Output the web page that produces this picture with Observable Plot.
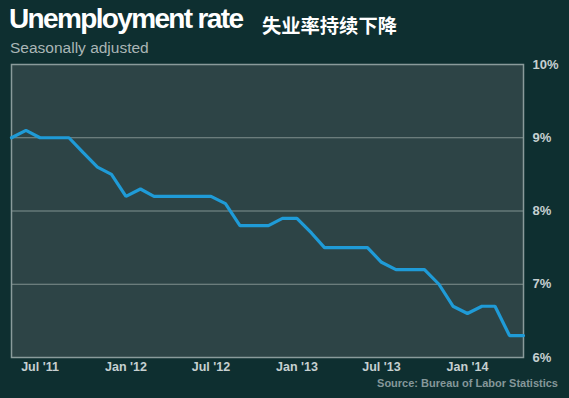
<!DOCTYPE html>
<html>
<head>
<meta charset="utf-8">
<script src="https://cdn.jsdelivr.net/npm/d3@7"></script>
<script src="https://cdn.jsdelivr.net/npm/@observablehq/plot@0.6"></script>
<style>
  html, body { margin: 0; padding: 0; }
  body { width: 569px; height: 398px; background: #0e2f30; position: relative; overflow: hidden; font-family: "Liberation Sans", Arial, sans-serif; }
  #title { position: absolute; left: 9px; top: 3px; color: #ffffff; font-weight: bold; font-size: 28px; letter-spacing: -1.65px; white-space: nowrap; }
  #cn { position: absolute; left: 262px; top: 11px; color: #ffffff; font-weight: bold; font-size: 19.3px; font-family: "Noto Sans CJK SC", sans-serif; white-space: nowrap; }
  #subtitle { position: absolute; left: 10px; top: 39px; color: #aab6b6; font-size: 15.5px; white-space: nowrap; }
  #chart { position: absolute; left: 0; top: 58px; }
  #source { position: absolute; right: 11px; top: 377px; color: #85979a; font-weight: bold; font-size: 11px; white-space: nowrap; }
</style>
</head>
<body>
<div id="title">Unemployment rate</div>
<div id="cn">失业率持续下降</div>
<div id="subtitle">Seasonally adjusted</div>
<div id="chart"></div>
<div id="source">Source: Bureau of Labor Statistics</div>
<script>
// Monthly, May 2011 .. May 2014
const startYear = 2011, startMonth = 4; // May (0-based)
const rates = [9.0, 9.1, 9.0, 9.0, 9.0, 8.8, 8.6, 8.5,
               8.2, 8.3, 8.2, 8.2, 8.2, 8.2, 8.2, 8.1, 7.8, 7.8, 7.8, 7.9,
               7.9, 7.7, 7.5, 7.5, 7.5, 7.5, 7.3, 7.2, 7.2, 7.2, 7.0, 6.7,
               6.6, 6.7, 6.7, 6.3, 6.3];
const yTicks = [6, 7, 8, 9, 10];
const gridValues = [7, 8, 9];
const xTickDates = [new Date(Date.UTC(2011,6,1)), new Date(Date.UTC(2012,0,1)), new Date(Date.UTC(2012,6,1)),
                    new Date(Date.UTC(2013,0,1)), new Date(Date.UTC(2013,6,1)), new Date(Date.UTC(2014,0,1))];
const xTickLabels = ["Jul '11", "Jan '12", "Jul '12", "Jan '13", "Jul '13", "Jan '14"];

const data = rates.map((v, i) => ({date: new Date(Date.UTC(startYear, startMonth + i, 1)), rate: v}));

const chart = Plot.plot({
  width: 569,
  height: 340,
  marginTop: 6,
  marginBottom: 41,
  marginLeft: 11,
  marginRight: 46,
  style: {background: "transparent", fontFamily: "Liberation Sans, Arial, sans-serif", fontSize: "12.5px", fontWeight: "bold", color: "#c6d0d0"},
  x: {type: "utc", domain: [data[0].date, data[data.length - 1].date]},
  y: {domain: [6, 10]},
  marks: [
    Plot.frame({fill: "#2d4446", stroke: null}),
    Plot.ruleY(gridValues, {stroke: "#80918f", strokeWidth: 1.2}),
    Plot.frame({stroke: "#8a9b9b", strokeWidth: 1.5}),
    Plot.line(data, {x: "date", y: "rate", stroke: "#1f9bd7", strokeWidth: 3.2, strokeLinejoin: "miter"}),
    Plot.axisX({ticks: xTickDates, tickFormat: (d) => xTickLabels[xTickDates.findIndex(t => +t === +d)], tickSize: 0, tickPadding: 5, label: null, fill: "#c6d0d0"}),
    Plot.axisY({anchor: "right", ticks: yTicks, tickFormat: (d) => d + "%", tickSize: 0, tickPadding: 9, label: null, fill: "#c6d0d0", fontSize: 13})
  ]
});
document.getElementById("chart").appendChild(chart);
</script>
</body>
</html>
